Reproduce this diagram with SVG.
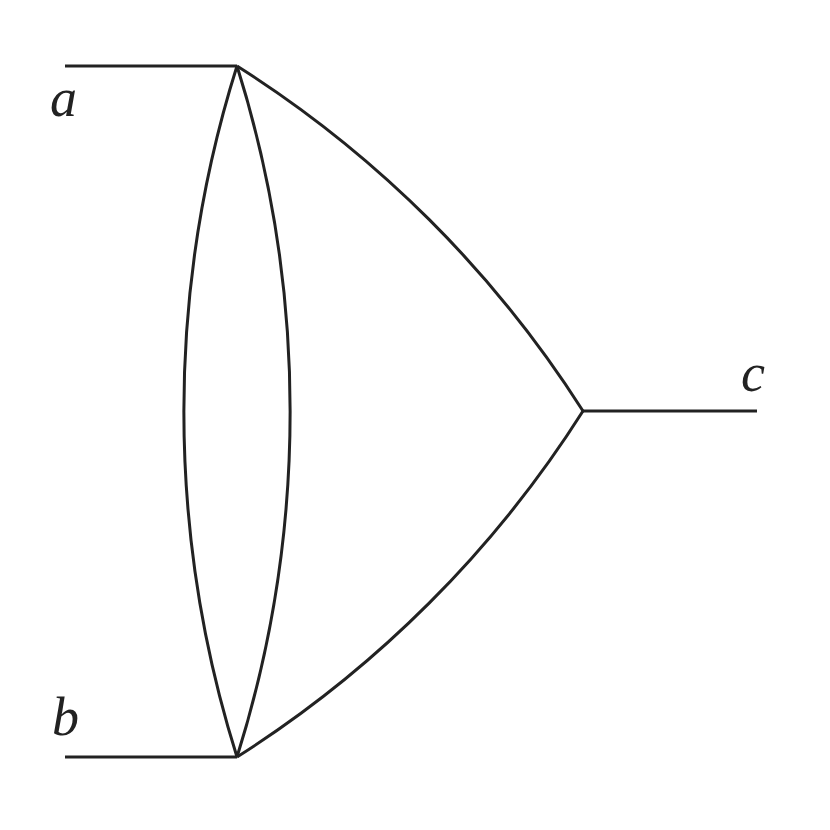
<svg xmlns="http://www.w3.org/2000/svg" width="830" height="830" viewBox="0 0 830 830">
<style>
.e{fill:none;stroke:#222;stroke-width:3}
.l{font-family:"Liberation Serif",serif;font-style:italic;font-size:54px;fill:#222}
</style>
<rect width="830" height="830" fill="#fff"/>
<g id="connectors">
<path class="e" d="M65,66 H237"/>
<path class="e" d="M65,757 H237"/>
<path class="e" d="M583,411 H757"/>
<path class="e" d="M237,66 A1150,1150 0 0 0 237,757"/>
<path class="e" d="M237,66 A1150,1150 0 0 1 237,757"/>
<path class="e" d="M237,66 A1120,1120 0 0 1 583,411"/>
<path class="e" d="M583,411 A1120,1120 0 0 1 237,757"/>
</g>
<g id="a"><text class="l" x="50" y="116">a</text></g>
<g id="b"><text class="l" x="52" y="735">b</text></g>
<g id="c"><text class="l" x="741" y="391">c</text></g>
</svg>
